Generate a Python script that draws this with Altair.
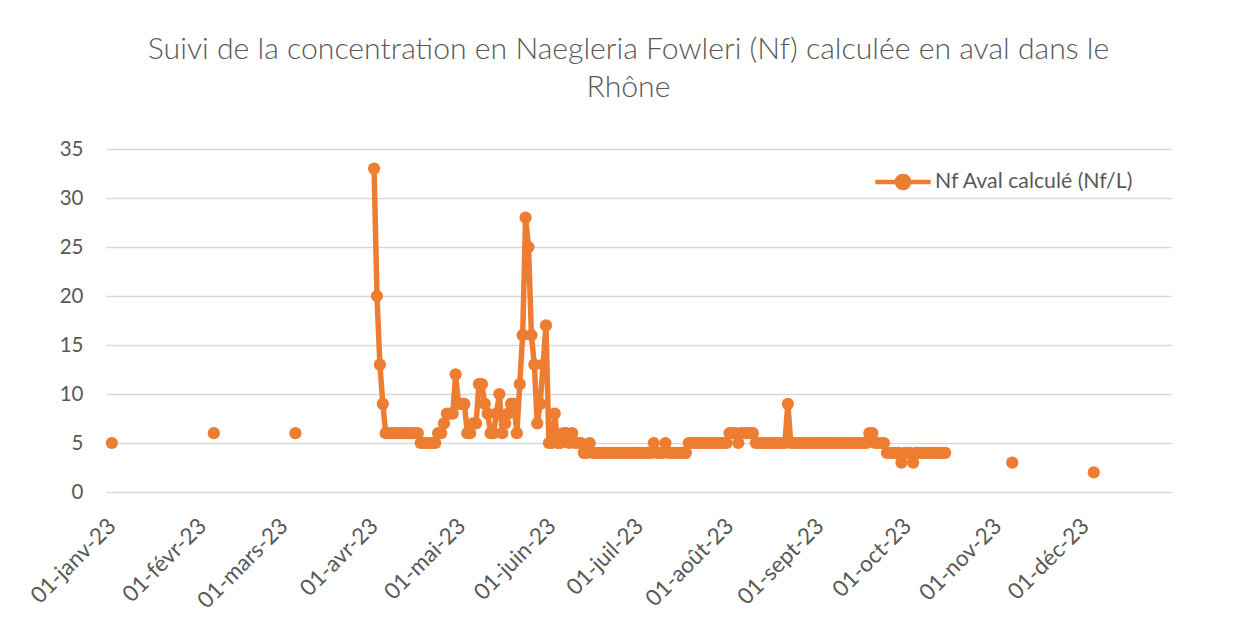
import altair as alt
import pandas as pd

# ---------------- data ----------------
SERIES = "Nf Aval calculé (Nf/L)"
TITLE = ["Suivi de la concentration en Naegleria Fowleri (Nf) calculée en aval dans le", "Rhône"]
MONTHS_FR = ["janv", "févr", "mars", "avr", "mai", "juin", "juil", "août", "sept", "oct", "nov", "déc"]
Y_TICKS = [0, 5, 10, 15, 20, 25, 30, 35]

# isolated measurements (no line joining them)
ISOLATED_DATES = ["2023-01-01", "2023-02-05", "2023-03-05", "2023-11-06", "2023-12-04"]
ISOLATED_VALUES = [5, 6, 6, 3, 2]

# daily measurements from 1 April 2023
DAILY_START = "2023-04-01"
DAILY_VALUES = [
    33, 20, 13, 9, 6, 6, 6, 6, 6, 6,
    6, 6, 6, 6, 6, 6, 5, 5, 5, 5,
    5, 5, 6, 6, 7, 8, 8, 8, 12, 9,
    9, 9, 6, 6, 7, 7, 11, 11, 9, 8,
    6, 6, 8, 10, 6, 7, 8, 9, 9, 6,
    11, 16, 28, 25, 16, 13, 7, 9, 13, 17,
    5, 5, 8, 5, 5, 6, 6, 5, 6, 5,
    5, 5, 4, 4, 5, 4, 4, 4, 4, 4,
    4, 4, 4, 4, 4, 4, 4, 4, 4, 4,
    4, 4, 4, 4, 4, 4, 5, 4, 4, 4,
    5, 4, 4, 4, 4, 4, 4, 4, 5, 5,
    5, 5, 5, 5, 5, 5, 5, 5, 5, 5,
    5, 5, 6, 6, 6, 5, 6, 6, 6, 6,
    6, 5, 5, 5, 5, 5, 5, 5, 5, 5,
    5, 5, 9, 5, 5, 5, 5, 5, 5, 5,
    5, 5, 5, 5, 5, 5, 5, 5, 5, 5,
    5, 5, 5, 5, 5, 5, 5, 5, 5, 5,
    6, 6, 5, 5, 5, 5, 4, 4, 4, 4,
    4, 3, 4, 4, 4, 3, 4, 4, 4, 4,
    4, 4, 4, 4, 4, 4, 4,
]

daily_dates = pd.date_range(DAILY_START, periods=len(DAILY_VALUES), freq="D").strftime("%Y-%m-%d")
rows = [{"date": d, "value": v, "seg": f"iso{i}", "series": SERIES}
        for i, (d, v) in enumerate(zip(ISOLATED_DATES, ISOLATED_VALUES))]
rows += [{"date": d, "value": v, "seg": "main", "series": SERIES}
         for d, v in zip(daily_dates, DAILY_VALUES)]
df = pd.DataFrame(rows).sort_values("date")

# ---------------- style ----------------
ORANGE = "#ED7D31"
GREY_TXT = "#595959"
GRID = "#d9d9d9"
FONT = "Lato"

month_arr = "[" + ",".join("'" + m + "'" for m in MONTHS_FR) + "]"
label_expr = ("'01-' + " + month_arr + "[utcmonth(datum.value)] + '-' + "
              "substring(toString(utcyear(datum.value)), 2)")

x_enc = alt.X(
    "date:T",
    scale=alt.Scale(
        type="utc",
        domain=[alt.DateTime(year=2022, month=12, date=30, utc=True),
                alt.DateTime(year=2023, month=12, date=30, hours=12, utc=True)],
    ),
    axis=alt.Axis(
        values=[alt.DateTime(year=2023, month=m, date=1, utc=True) for m in range(1, 13)],
        labelExpr=label_expr,
        labelAngle=-45, labelAlign="right", labelBaseline="middle",
        labelPadding=30, labelOffset=0, labelFont=FONT, labelFontSize=22.5,
        labelColor=GREY_TXT,
        labelOverlap=False, labelBound=False, labelFlush=False, labelLimit=400,
        grid=False, ticks=False, domain=False, title=None,
    ),
)
y_enc = alt.Y(
    "value:Q",
    scale=alt.Scale(domain=[0, 35], nice=False, zero=True),
    axis=alt.Axis(
        values=Y_TICKS, grid=True, gridColor=GRID, gridWidth=1.3,
        domain=False, ticks=False, labelPadding=23,
        labelFont=FONT, labelFontSize=20.5, labelColor=GREY_TXT, title=None,
    ),
)

legend_path = ("M-1,0L1,0M0.22,0A0.22,0.22,0,1,1,-0.22,0"
               "A0.22,0.22,0,1,1,0.22,0Z")
color_enc = alt.Color(
    "series:N",
    scale=alt.Scale(domain=[SERIES], range=[ORANGE]),
    legend=alt.Legend(
        orient="none", legendX=767, legendY=3, title=None,
        symbolType=legend_path, symbolSize=3080, symbolStrokeWidth=4.5,
        symbolFillColor=ORANGE, symbolStrokeColor=ORANGE,
        labelFont=FONT, labelFontSize=21.3, labelColor=GREY_TXT, labelOffset=2,
        labelLimit=500, padding=0,
    ),
)

base = alt.Chart(df)
line = base.mark_line(strokeWidth=5.5, strokeJoin="round").encode(
    x=x_enc, y=y_enc, color=color_enc, detail="seg:N"
)
pts = base.mark_point(filled=True, size=150, opacity=1).encode(
    x=x_enc, y=y_enc, color=color_enc
)

chart = alt.layer(line, pts).properties(
    width=1065, height=343,
    padding={"left": 98, "top": 141, "right": 68, "bottom": 134},
    autosize=alt.AutoSizeParams(type="none"),
    background="white",
    title=alt.TitleParams(
        TITLE, anchor="middle", font=FONT, fontSize=30.2, fontWeight=300,
        color=GREY_TXT, lineHeight=38, offset=36, dx=-10,
    ),
).configure_view(stroke=None)

chart.save("out.html", embed_options={"renderer": "svg", "actions": False})
